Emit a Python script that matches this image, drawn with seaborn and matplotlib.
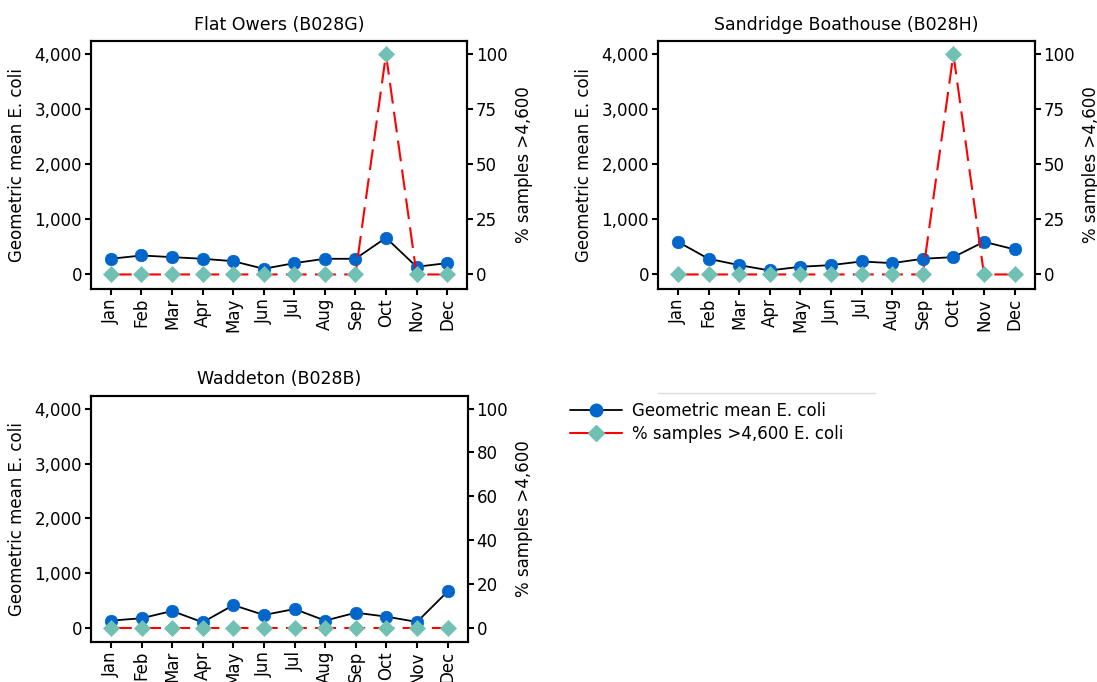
import numpy as np
import pandas as pd
import matplotlib
matplotlib.use("Agg")
import matplotlib.pyplot as plt
from matplotlib.lines import Line2D
import seaborn as sns

months = ["Jan", "Feb", "Mar", "Apr", "May", "Jun", "Jul", "Aug", "Sep", "Oct", "Nov", "Dec"]

titles = ["Flat Owers (B028G)", "Sandridge Boathouse (B028H)", "Waddeton (B028B)"]

gm_flat_owers = [285, 345, 315, 285, 242, 103, 206, 285, 285, 667, 140, 206]
pct_flat_owers = [0, 0, 0, 0, 0, 0, 0, 0, 0, 100, 0, 0]

gm_sandridge = [594, 285, 170, 73, 140, 170, 236, 206, 285, 315, 594, 455]
pct_sandridge = [0, 0, 0, 0, 0, 0, 0, 0, 0, 100, 0, 0]

gm_waddeton = [127, 170, 303, 97, 411, 230, 339, 127, 272, 200, 103, 660]
pct_waddeton = [0, 0, 0, 0, 0, 0, 0, 0, 0, 0, 0, 0]

left_ticks = [0, 1000, 2000, 3000, 4000]
right_ticks_a = [0, 25, 50, 75, 100]
right_ticks_b = [0, 20, 40, 60, 80, 100]

series_labels = ["Geometric mean E. coli", "% samples >4,600 E. coli"]
left_label = "Geometric mean E. coli"
right_label = "% samples >4,600"

BLUE = "#0066CC"
TEAL = "#70C1B3"
RED = "#FF0000"

sns.set_style("ticks")
plt.rcParams["font.family"] = ["DejaVu Sans"]
plt.rcParams["font.size"] = 12
plt.rcParams["axes.linewidth"] = 1.5
plt.rcParams["xtick.major.width"] = 1.5
plt.rcParams["ytick.major.width"] = 1.5
plt.rcParams["xtick.major.size"] = 4
plt.rcParams["ytick.major.size"] = 4
plt.rcParams["xtick.major.pad"] = 2.5
plt.rcParams["ytick.major.pad"] = 2.5
plt.rcParams["xtick.color"] = "black"
plt.rcParams["ytick.color"] = "black"
plt.rcParams["axes.edgecolor"] = "black"
plt.rcParams["text.color"] = "black"
plt.rcParams["axes.labelcolor"] = "black"

fig = plt.figure(figsize=(10.97, 6.82), dpi=100)

W, H = 1097.0, 682.0
boxes = [
    (91, 467, 41, 289),
    (658, 1034.5, 41, 289),
    (91, 467.5, 395.6, 642),
]
gms = [gm_flat_owers, gm_sandridge, gm_waddeton]
pcts = [pct_flat_owers, pct_sandridge, pct_waddeton]
rticks = [right_ticks_a, right_ticks_a, right_ticks_b]

x = np.arange(len(months))

for i in range(3):
    l, r, t, b = boxes[i]
    ax = fig.add_axes([l / W, 1 - b / H, (r - l) / W, (b - t) / H])
    df = pd.DataFrame({"month": x, "gm": gms[i], "pct": pcts[i]})
    sns.lineplot(data=df, x="month", y="gm", ax=ax, color="black", lw=1.3,
                 marker="o", markersize=9, markerfacecolor=BLUE,
                 markeredgecolor=BLUE, markeredgewidth=0.5, errorbar=None)
    ax.set_xlim(-0.65, 11.65)
    ax.set_ylim(-264, 4242)
    ax.set_yticks(left_ticks)
    ax.set_yticklabels([f"{v:,}" for v in left_ticks])
    ax.set_xticks(x)
    ax.set_xticklabels(months, rotation=90)
    ax.set_xlabel("")
    ax.set_ylabel(left_label)
    ax.yaxis.set_label_coords(-0.172, 0.5)
    ax.set_title(titles[i], pad=8, fontsize=12.5)

    ax2 = ax.twinx()
    sns.lineplot(data=df, x="month", y="pct", ax=ax2, color=RED, lw=1.5,
                 linestyle=(0, (10, 4)),
                 marker="D", markersize=8.5, markerfacecolor=TEAL,
                 markeredgecolor=TEAL, markeredgewidth=0.5, errorbar=None)
    ax2.set_ylim(-6.6, 106.0)
    ax2.set_yticks(rticks[i])
    ax2.set_ylabel(right_label)
    ax2.yaxis.set_label_coords(1.127, 0.5)
    ax2.set_xlim(-0.65, 11.65)
    ax2.set_xlabel("")
    for sp in ax2.spines.values():
        sp.set_linewidth(1.5)
        sp.set_color("black")

handles = [
    Line2D([], [], color="black", lw=1.3, marker="o", markersize=9,
           markerfacecolor=BLUE, markeredgecolor=BLUE),
    Line2D([], [], color=RED, lw=1.5, marker="D", markersize=8.5,
           markerfacecolor=TEAL, markeredgecolor=TEAL),
]
fig.legend(handles, series_labels, loc="upper left",
           bbox_to_anchor=(570 / W, 1 - 402 / H), frameon=False,
           borderpad=0, borderaxespad=0, handlelength=3.1,
           handletextpad=0.6, labelspacing=0.3, fontsize=12)

fig.add_artist(Line2D([657.7 / W, 875 / W], [1 - 393.3 / H, 1 - 393.3 / H],
                      color="#dcdcdc", lw=1))

fig.savefig("out.png", dpi=100)
